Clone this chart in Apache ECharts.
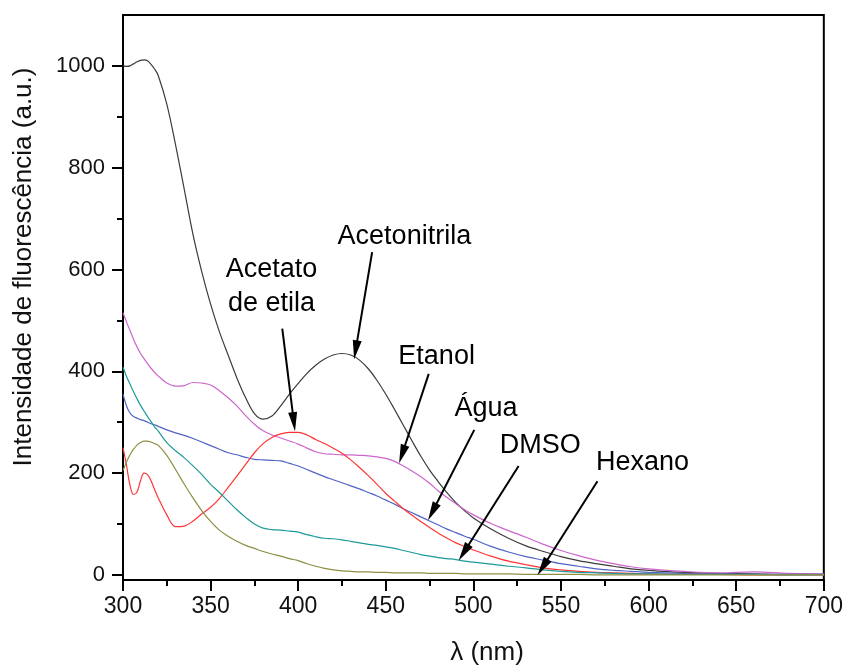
<!DOCTYPE html>
<html>
<head>
<meta charset="utf-8">
<script src="https://cdn.jsdelivr.net/npm/echarts@6/dist/echarts.min.js"></script>
<style>
html,body{margin:0;padding:0;background:#fff;}
#chart{width:846px;height:668px;}
</style>
</head>
<body>
<div id="chart"></div>
<script>
const wavelengths = [300,302,304,306,308,310,312,314,316,318,320,325,330,335,340,345,350,355,360,365,370,375,380,385,390,395,400,405,410,415,420,425,430,435,440,445,450,455,460,465,470,475,480,485,490,495,500,510,520,530,540,550,560,570,580,590,600,620,640,660,680,700];

const acetonitrila = [1000,999,1000,1004,1008,1011,1012,1010,1003,994,982,925,845,757,668,595,532,478,432,387,348,317,306,312,332,355,376,396,412,424,432,435,432,422,405,382,355,325,294,263,233,206,183,161,142,126,112,90,72,57,46,36,28,22,17,12,9,5,3,2,1,1];
const etanol = [515,497,480,463,448,435,425,415,406,398,391,377,371,372,378,377,373,362,348,332,313,296,283,275,269,263,257,249,242,238,237,236,236,235,234,232,229,223,214,204,193,180,165,152,140,128,118,101,87,74,60,48,38,29,22,16,12,7,4,6,3,2];
const agua = [355,332,318,311,308,305,303,300,297,295,292,285,279,274,268,261,254,247,240,236,231,227,226,225,224,219,214,207,200,193,187,181,175,169,162,155,147,139,130,122,114,106,98,90,83,76,70,56,45,36,29,22,17,12,9,7,5,3,2,1,1,1];
const acetatoEtila = [250,215,176,158,163,185,200,197,185,168,152,118,95,96,106,120,133,150,172,194,217,240,258,270,277,280,280,275,266,258,249,239,226,211,195,178,160,145,130,117,105,93,82,72,63,56,49,37,27,20,14,10,7,5,4,3,2,1,1,0,0,0];
const dmso = [408,390,375,360,346,333,322,311,301,291,283,260,244,230,214,197,178,162,145,128,113,100,92,89,88,86,84,79,75,72,71,69,66,63,60,58,55,52,48,44,40,37,34,32,30,27,25,21,17,14,10,7,5,4,3,2,2,1,1,1,0,0];
const hexano = [205,222,236,247,255,260,263,263,261,258,255,235,207,178,151,126,105,88,76,66,58,52,46,41,37,32,28,22,17,13,10,8,7,6,6,5,5,4,4,4,4,3,3,3,3,2,2,2,2,1,1,1,1,0,0,0,0,0,0,0,0,0];

const seriesNames = ['Acetonitrila','Etanol','Água','Acetato de etila','DMSO','Hexano'];
const seriesColors = ['#3c3c3c','#cc66cc','#5064c4','#ff3535','#1f9a9a','#8e8e45'];

const xTicks = [300,350,400,450,500,550,600,650,700];
const yTicks = [0,200,400,600,800,1000];
const yMinorTicks = [100,300,500,700,900];

// annotation labels (text, [x, y] in data units)
const annLabels = ['Acetonitrila','Acetato\nde etila','Etanol','Água','DMSO','Hexano'];
const annLabelPos = [[460.6,665],[384.8,567],[479,429],[507.2,327],[538.1,254],[596.5,220]];
const arrowStart = [[442.2,634],[390.9,484],[474.5,395],[500.5,285],[525.8,214],[570.8,184]];
const arrowTip = [[432.8,442],[397.5,301],[459.3,237],[476.6,124],[494.5,44],[539.5,15]];

const allData = [acetonitrila, etanol, agua, acetatoEtila, dmso, hexano];
const font = 'Liberation Sans, Arial, sans-serif';

const series = allData.map((vals, i) => ({
  name: seriesNames[i],
  type: 'line',
  data: wavelengths.map((w, j) => [w, vals[j]]),
  showSymbol: false,
  smooth: 0.35,
  lineStyle: { color: seriesColors[i], width: 1.2 },
  itemStyle: { color: seriesColors[i] },
  z: 3
}));

series.push({
  name: 'annotations',
  type: 'line',
  data: [],
  silent: true,
  z: 5,
  markLine: {
    silent: true,
    animation: false,
    symbol: ['none', 'triangle'],
    label: { show: false },
    lineStyle: { color: '#000', width: 2, type: 'solid' },
    itemStyle: { color: '#000' },
    emphasis: { disabled: true },
    data: arrowStart.map((s, i) => [
      { coord: s, symbol: 'none' },
      { coord: arrowTip[i], symbol: 'triangle', symbolSize: [9, 19] }
    ])
  },
  markPoint: {
    silent: true,
    animation: false,
    symbol: 'circle',
    symbolSize: 1,
    itemStyle: { color: 'rgba(0,0,0,0)' },
    label: {
      show: true,
      position: 'inside',
      formatter: '{b}',
      color: '#000',
      fontSize: 27,
      fontFamily: font,
      lineHeight: 34,
      align: 'center',
      verticalAlign: 'middle'
    },
    data: annLabels.map((t, i) => ({ name: t, coord: annLabelPos[i], value: 0 }))
  }
});

const chart = echarts.init(document.getElementById('chart'), null, { renderer: 'canvas' });
chart.setOption({
  animation: false,
  backgroundColor: '#fff',
  grid: { left: 123, right: 21, top: 15, bottom: 88, show: true, borderColor: '#000', borderWidth: 2, backgroundColor: 'transparent' },
  xAxis: {
    type: 'value',
    min: 300, max: 700, interval: 50,
    axisLine: { show: true, onZero: false, lineStyle: { color: '#000', width: 2 } },
    axisTick: { show: true, length: 11, lineStyle: { color: '#000', width: 2 } },
    minorTick: { show: true, splitNumber: 2, length: 6, lineStyle: { color: '#000', width: 2 } },
    axisLabel: { show: true, color: '#111', fontSize: 23, fontFamily: font, margin: 15, customValues: xTicks, formatter: v => String(v) },
    splitLine: { show: false },
    minorSplitLine: { show: false }
  },
  yAxis: [{
    type: 'value',
    min: -10, max: 1100,
    axisLine: { show: true, onZero: false, lineStyle: { color: '#000', width: 2 } },
    axisTick: { show: true, length: 11, lineStyle: { color: '#000', width: 2 }, customValues: yTicks },
    axisLabel: { show: true, color: '#111', fontSize: 22, fontFamily: font, margin: 18, customValues: yTicks, formatter: v => String(v) },
    splitLine: { show: false }
  }, {
    type: 'value',
    position: 'left',
    min: -10, max: 1100,
    axisLine: { show: false },
    axisTick: { show: true, length: 6, lineStyle: { color: '#000', width: 2 }, customValues: yMinorTicks },
    axisLabel: { show: false },
    splitLine: { show: false }
  }],
  graphic: [
    {
      type: 'text', x: 24, y: 267, rotation: Math.PI / 2,
      style: { text: 'Intensidade de fluorescência (a.u.)', font: '26px ' + font, fill: '#111', textAlign: 'center', textVerticalAlign: 'middle' }
    },
    {
      type: 'text', x: 487, y: 653,
      style: { text: 'λ (nm)', font: '26px ' + font, fill: '#111', textAlign: 'center', textVerticalAlign: 'middle' }
    }
  ],
  series: series
});
</script>
</body>
</html>
